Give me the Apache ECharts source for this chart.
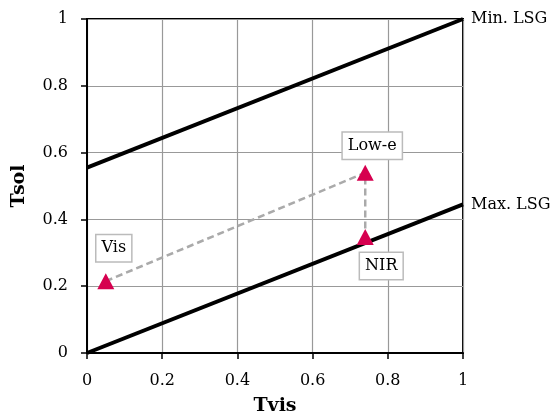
<!DOCTYPE html>
<html>
<head>
<meta charset="utf-8">
<script src="https://cdn.jsdelivr.net/npm/echarts@6/dist/echarts.min.js"></script>
<style>html,body{margin:0;padding:0;background:#fff;}#c{width:558px;height:417px;}</style>
</head>
<body>
<div id="c"></div>
<script>
var xTicks = [0, 0.2, 0.4, 0.6, 0.8, 1];
var yTicks = [0, 0.2, 0.4, 0.6, 0.8, 1];
var minLSG = [[0, 0.555], [1, 1]];
var maxLSG = [[0, 0], [1, 0.445]];
var lineNames = ['Min. LSG', 'Max. LSG'];
var pointNames = ['Vis', 'Low-e', 'NIR'];
var pointTvis = [0.05, 0.74, 0.74];
var pointTsol = [0.215, 0.54, 0.347];

var FONT = 'DejaVu Serif';
var labelOffsets = [[8, -33], [7, -27], [16, 29]];
var pts = pointNames.map(function (n, i) { return [pointTvis[i], pointTsol[i]]; });

var chart = echarts.init(document.getElementById('c'));
chart.setOption({
  animation: false,
  backgroundColor: '#fff',
  grid: { left: 87, right: 95, top: 19, bottom: 64, containLabel: false, outerBoundsMode: 'none',
    show: true, borderColor: '#000', borderWidth: 2, backgroundColor: 'transparent' },
  xAxis: {
    type: 'value', min: 0, max: 1, interval: 0.2,
    name: 'Tvis', nameLocation: 'middle', nameGap: 44,
    nameTextStyle: { fontFamily: FONT, fontWeight: 'bold', fontSize: 19, color: '#000' },
    axisLine: { show: true, lineStyle: { color: '#000', width: 2 } },
    axisTick: { show: true, length: 6, lineStyle: { color: '#000', width: 1.5 } },
    axisLabel: { margin: 20, fontFamily: FONT, fontSize: 16, color: '#000',
      formatter: function (v) { return xTicks.indexOf(v) >= 0 ? String(v) : ''; } },
    splitLine: { show: true, lineStyle: { color: '#999', width: 1.2 } }
  },
  yAxis: {
    type: 'value', min: 0, max: 1, interval: 0.2,
    name: 'Tsol', nameLocation: 'middle', nameGap: 58, nameRotate: 90,
    nameTextStyle: { fontFamily: FONT, fontWeight: 'bold', fontSize: 19, color: '#000' },
    axisLine: { show: true, lineStyle: { color: '#000', width: 2 } },
    axisTick: { show: true, length: 6, lineStyle: { color: '#000', width: 1.5 } },
    axisLabel: { margin: 19, fontFamily: FONT, fontSize: 16, color: '#000',
      formatter: function (v) { return yTicks.indexOf(v) >= 0 ? String(v) : ''; } },
    splitLine: { show: true, lineStyle: { color: '#999', width: 1.2 } }
  },
  series: [
    {
      type: 'line', data: minLSG, symbol: 'none', lineStyle: { color: '#000', width: 4 }, z: 3,
      endLabel: { show: true, formatter: lineNames[0], distance: 8, fontFamily: FONT, fontSize: 16, color: '#000' }
    },
    {
      type: 'line', data: maxLSG, symbol: 'none', lineStyle: { color: '#000', width: 4 }, z: 3,
      endLabel: { show: true, formatter: lineNames[1], distance: 8, fontFamily: FONT, fontSize: 16, color: '#000' }
    },
    {
      type: 'line', data: pts, symbol: 'none',
      lineStyle: { color: '#aaa', width: 2.5, type: [7, 4] }, z: 4
    },
    {
      type: 'scatter', symbol: 'triangle', symbolSize: [17, 16], z: 5,
      itemStyle: { color: '#d6004f', opacity: 1 },
      data: pts.map(function (p, i) {
        return {
          value: p, name: pointNames[i],
          label: {
            show: true, position: 'inside', offset: labelOffsets[i], formatter: pointNames[i],
            fontFamily: FONT, fontSize: 16, color: '#000', backgroundColor: '#fff',
            borderColor: '#bbb', borderWidth: 1.5, padding: [4, 5, 4, 5], lineHeight: 18
          }
        };
      })
    }
  ]
});
</script>
</body>
</html>
